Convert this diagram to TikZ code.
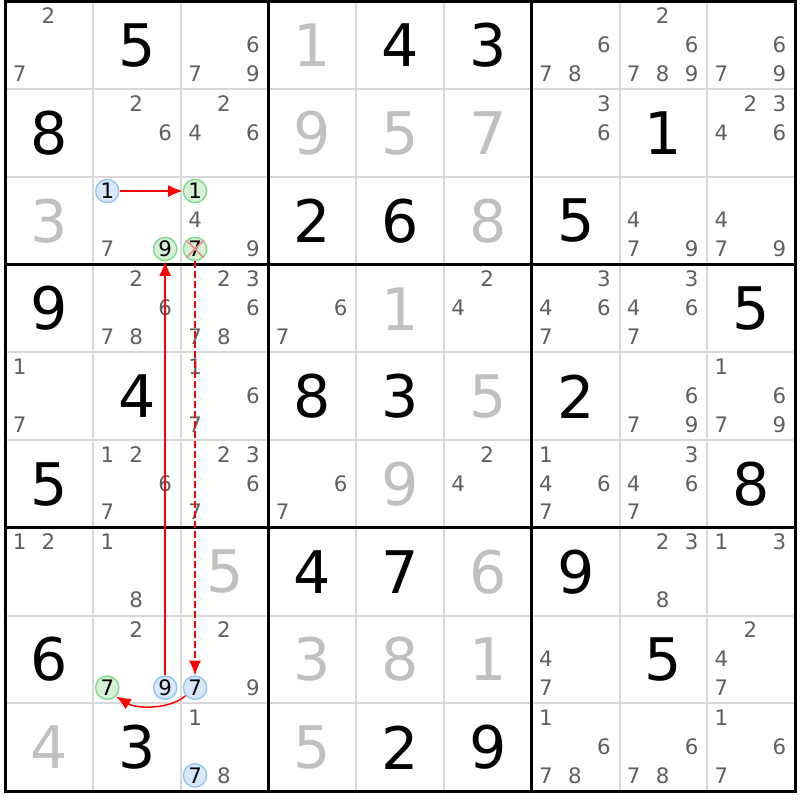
\documentclass[tikz,border=0pt]{standalone}
\usepackage{fontspec}
\setmainfont{DejaVu Sans}
\usetikzlibrary{arrows.meta, positioning}
\definecolor{candgray}{HTML}{5F5F5F}
\definecolor{solvedgray}{HTML}{C0C0C0}
\definecolor{gridgray}{HTML}{D8D8D8}
\definecolor{onfill}{HTML}{D6E8FA}
\definecolor{ondraw}{HTML}{8EC3F5}
\definecolor{offfill}{HTML}{D5F2D5}
\definecolor{offdraw}{HTML}{7FD88A}
\definecolor{linkred}{HTML}{FF0000}
\definecolor{crossred}{HTML}{F08A8A}
\tikzstyle{link} = [draw=linkred, line width=1.1pt, -{Latex[length=11pt,width=9pt]}]

\begin{document}
\begin{tikzpicture}[x=65.8125pt, y=-65.8125pt,
  given/.style={font=\fontsize{44}{44}\selectfont, text=black, inner sep=0pt},
  solved/.style={given, text=solvedgray},
  cand/.style={font=\fontsize{16}{16}\selectfont, text=candgray, inner sep=0pt},
  candon/.style={cand, circle, draw=ondraw, fill=onfill, text=black, minimum size=17.5pt, line width=1pt},
  candoff/.style={candon, draw=offdraw, fill=offfill}]
  \useasboundingbox (-0.0627,-0.0171) rectangle (9.054,9.100);

  % Grid
  \foreach \i in {1,...,8} {
    \draw[gridgray, line width=1.5pt] (\i,0) -- (\i,9);
    \draw[gridgray, line width=1.5pt] (0,\i) -- (9,\i);
  }
  \foreach \i in {3,6} {
    \draw[line width=2.25pt] (\i,0) -- (\i,9);
    \draw[line width=2.25pt] (0,\i) -- (9,\i);
  }
  \draw[line width=2.25pt] (0,0) rectangle (9,9);

  % Givens and solved cells
  \foreach \c/\r/\d in {2/1/5, 5/1/4, 6/1/3, 1/2/8, 8/2/1, 4/3/2, 5/3/6, 7/3/5,
      1/4/9, 9/4/5, 2/5/4, 4/5/8, 5/5/3, 7/5/2, 1/6/5, 9/6/8, 4/7/4, 5/7/7,
      7/7/9, 1/8/6, 8/8/5, 2/9/3, 5/9/2, 6/9/9}
    \node[given] (g\c\r) at (\c-0.5,\r-0.5) {\d};
  \foreach \c/\r/\d in {4/1/1, 4/2/9, 5/2/5, 6/2/7, 1/3/3, 6/3/8, 5/4/1, 6/5/5,
      5/6/9, 3/7/5, 6/7/6, 4/8/3, 5/8/8, 6/8/1, 1/9/4, 4/9/5}
    \node[solved] (s\c\r) at (\c-0.5,\r-0.5) {\d};

  % Candidates
  \foreach \c/\r/\ds in {1/1/{2,7}, 3/1/{6,7,9}, 7/1/{6,7,8}, 8/1/{2,6,7,8,9}, 9/1/{6,7,9},
      2/2/{2,6}, 3/2/{2,4,6}, 7/2/{3,6}, 9/2/{2,3,4,6},
      2/3/{7}, 3/3/{4,9}, 8/3/{4,7,9}, 9/3/{4,7,9},
      2/4/{2,6,7,8}, 3/4/{2,3,6,7,8}, 4/4/{6,7}, 6/4/{2,4}, 7/4/{3,4,6,7}, 8/4/{3,4,6,7},
      1/5/{1,7}, 3/5/{1,6,7}, 8/5/{6,7,9}, 9/5/{1,6,7,9},
      2/6/{1,2,6,7}, 3/6/{2,3,6,7}, 4/6/{6,7}, 6/6/{2,4}, 7/6/{1,4,6,7}, 8/6/{3,4,6,7},
      1/7/{1,2}, 2/7/{1,8}, 8/7/{2,3,8}, 9/7/{1,3},
      2/8/{2}, 3/8/{2,9}, 7/8/{4,7}, 9/8/{2,4,7},
      3/9/{1,8}, 7/9/{1,6,7,8}, 8/9/{6,7,8}, 9/9/{1,6,7}}
    \foreach \d in \ds {
      \pgfmathtruncatemacro\dx{mod(\d-1,3)-1}
      \pgfmathtruncatemacro\dy{div(\d-1,3)-1}
      \node[cand] (c\c\r\d) at (\c-0.51+0.33*\dx,\r-0.51+0.33*\dy) {\d};
    }

  % Chain candidates
  \node[candon] (r3c2n1) at (1.16,2.16) {1};
  \node[candoff] (r3c2n9) at (1.82,2.82) {9};
  \node[candoff] (r3c3n1) at (2.16,2.16) {1};
  \node[candoff] (r3c3n7) at (2.16,2.82) {7};
  \node[candoff] (r8c2n7) at (1.16,7.82) {7};
  \node[candon] (r8c2n9) at (1.82,7.82) {9};
  \node[candon] (r8c3n7) at (2.16,7.82) {7};
  \node[candon] (r9c3n7) at (2.16,8.82) {7};
  \draw[crossred, line width=1.2pt] (r3c3n7.north west) -- (r3c3n7.south east);
  \draw[crossred, line width=1.2pt] (r3c3n7.north east) -- (r3c3n7.south west);

  % Links
  \draw[link] (r3c2n1) -- (r3c3n1);
  \draw[link] (r8c2n9) -- (r3c2n9);
  \draw[link, dash pattern=on 5pt off 2.5pt] (r3c3n7) -- (r8c3n7);
  \draw[link] (r8c3n7.220) .. controls +(-0.16,0.15) and +(0.25,0.15) .. (r8c2n7.-45);
\end{tikzpicture}
\end{document}
